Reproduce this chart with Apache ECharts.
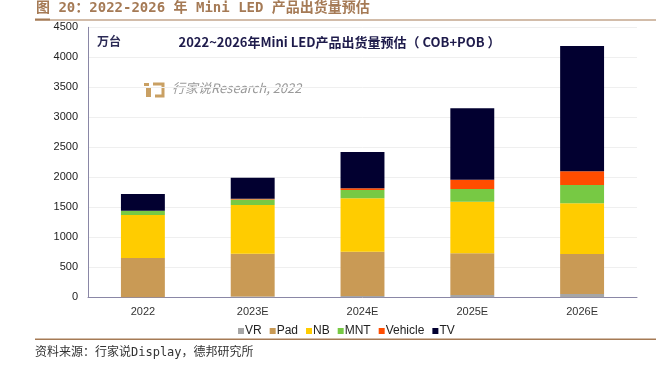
<!DOCTYPE html>
<html><head><meta charset="utf-8">
<script src="https://cdn.jsdelivr.net/npm/echarts@6/dist/echarts.min.js"></script>
<style>html,body{margin:0;padding:0;background:#fff}#c{width:661px;height:367px}</style>
</head><body><div id="c"></div>
<script>
const categories = ['2022', '2023E', '2024E', '2025E', '2026E'];
const vr      = [0, 15, 20, 40, 55];
const pad     = [655, 712, 740, 693, 667];
const nb      = [717, 811, 890, 860, 845];
const mnt     = [71, 90, 138, 212, 305];
const vehicle = [0, 15, 30, 155, 228];
const tv      = [279, 350, 605, 1190, 2090];
const yTicks  = [0, 500, 1000, 1500, 2000, 2500, 3000, 3500, 4000, 4500];

const seriesDefs = [
  ['VR', vr, '#a6a6a6'],
  ['Pad', pad, '#c99a55'],
  ['NB', nb, '#ffcc00'],
  ['MNT', mnt, '#77c944'],
  ['Vehicle', vehicle, '#ff4d00'],
  ['TV', tv, '#020030']
];

const chart = echarts.init(document.getElementById('c'), null, {renderer: 'canvas'});
const font = '"Liberation Sans", Arial, sans-serif';
chart.setOption({
  animation: false,
  textStyle: {fontFamily: font},
  grid: {left: 88, right: 24, top: 27.3, bottom: 69.7, containLabel: false},
  legend: {
    left: 238, top: 325, padding: 0, itemWidth: 6, itemHeight: 6, itemGap: 8,
    icon: 'rect',
    textStyle: {fontSize: 12, color: '#222', padding: [0, 0, 0, -4], fontFamily: font},
    data: seriesDefs.map(d => d[0])
  },
  xAxis: {
    type: 'category', data: categories,
    axisLine: {lineStyle: {color: '#8a87a6', width: 1}},
    axisTick: {show: false},
    axisLabel: {fontSize: 11, color: '#333', margin: 9, fontFamily: font}
  },
  yAxis: {
    type: 'value', min: 0, max: 4500, interval: 500,
    axisLine: {show: true, lineStyle: {color: '#8a87a6', width: 1}},
    axisTick: {show: false},
    splitLine: {lineStyle: {color: '#efefef'}},
    axisLabel: {fontSize: 11, color: '#222', margin: 10, fontFamily: font,
      formatter: v => yTicks.includes(v) ? String(v) : ''}
  },
  series: seriesDefs.map(d => ({
    name: d[0], type: 'bar', stack: 'total', data: d[1],
    barWidth: '40%', itemStyle: {color: d[2]}
  })),
  graphic: [
    {type: 'text', left: 36, top: 1, style: {text: '图 20：2022-2026 年 Mini LED 产品出货量预估', fill: '#a57a55', font: 'bold 14px "DejaVu Sans Mono", "Noto Sans CJK SC", monospace'}},
    {type: 'rect', shape: {x: 35, y: 19.5, width: 621, height: 1}, style: {fill: '#a57a55'}},
    {type: 'rect', shape: {x: 35, y: 18.5, width: 15, height: 2}, style: {fill: '#a57a55'}},
    {type: 'text', left: 97, top: 35, style: {text: '万台', fill: '#2b2a55', font: 'bold 12px "Noto Sans CJK SC", sans-serif'}},
    {type: 'text', x: 339.5, y: 42, style: {text: '2022~2026年Mini LED产品出货量预估（ COB+POB ）', fill: '#1e1b4b', font: 'bold 13px "Noto Sans CJK SC", sans-serif', textAlign: 'center', textVerticalAlign: 'middle'}},
    {type: 'rect', shape: {x: 144, y: 83, width: 5, height: 3}, style: {fill: '#c9a063'}},
    {type: 'rect', shape: {x: 146, y: 88, width: 5, height: 9}, style: {fill: '#c9a063'}},
    {type: 'polyline', shape: {points: [[153, 84], [163, 84], [163, 96], [155, 96]]}, style: {stroke: '#c9a063', lineWidth: 3, fill: null}},
    {type: 'text', x: 172, y: 88, style: {text: '行家说Research, 2022', fill: '#9a9a9a', font: 'italic 13px "Noto Sans CJK SC", sans-serif', textVerticalAlign: 'middle'}},
    {type: 'rect', shape: {x: 35, y: 338.5, width: 621, height: 1.5}, style: {fill: '#a57a55'}},
    {type: 'text', left: 35, top: 347, style: {text: '资料来源：行家说Display，德邦研究所', fill: '#333', font: '12px "DejaVu Sans Mono", "Noto Sans CJK SC", monospace'}}
  ]
});
</script></body></html>
